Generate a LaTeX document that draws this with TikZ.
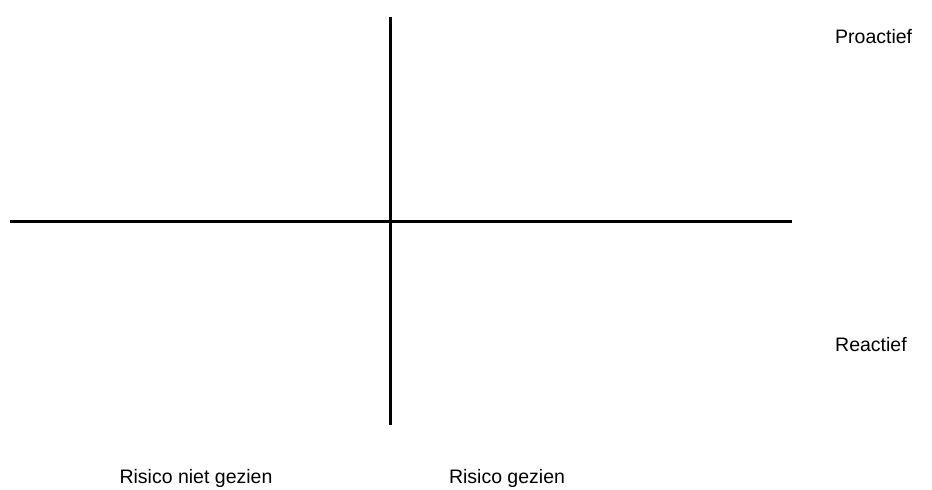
\documentclass[tikz,border=0pt]{standalone}
\usepackage{fontspec}
\setmainfont{Liberation Sans}
\usetikzlibrary{positioning}
\tikzset{
  axisline/.style={black, line width=3pt},
  lbl/.style={font=\fontsize{19.5}{22}\selectfont, inner sep=0pt},
}
\begin{document}
\begin{tikzpicture}[x=1pt, y=-1pt]
  \useasboundingbox (0,0) rectangle (932,490);
  % axes
  \coordinate (top) at (390,17);
  \coordinate (bottom) at (390,425);
  \coordinate (left) at (10,221);
  \coordinate (right) at (792,221);
  \draw[axisline] (left) -- (right);
  \draw[axisline] (top) -- (bottom);
  % labels
  \node[lbl, anchor=west] (pro) at (835,37) {Proactief};
  \node[lbl, anchor=west] (re) at (835,345) {Reactief};
  \node[lbl] (niet) at (196,478) {Risico niet gezien};
  \node[lbl] (wel) at (507,478) {Risico gezien};
\end{tikzpicture}
\end{document}
